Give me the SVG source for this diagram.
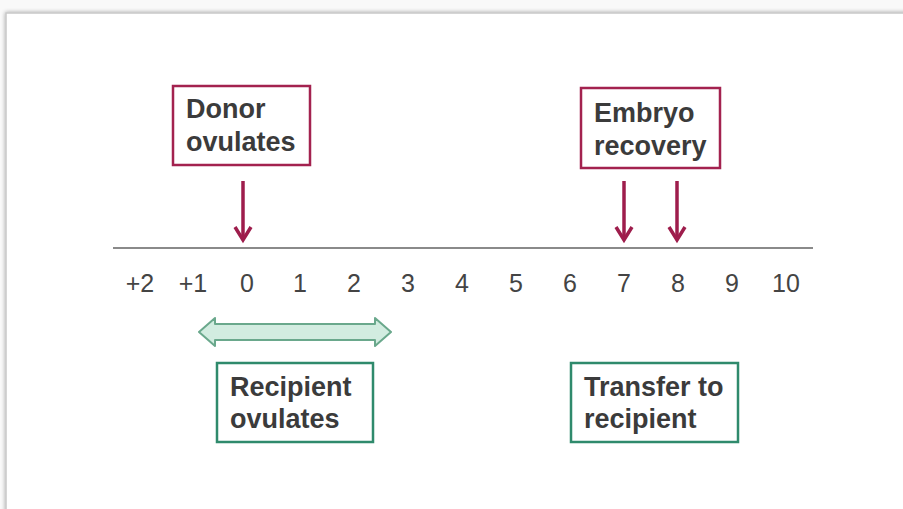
<svg xmlns="http://www.w3.org/2000/svg" width="903" height="509" viewBox="0 0 903 509">
<defs>
<style>
.lbl{font-family:"Liberation Sans",Arial,sans-serif;font-weight:bold;font-size:27px;fill:#3b3b3b}
.num{font-family:"Liberation Sans",Arial,sans-serif;font-size:25px;fill:#444;text-anchor:middle}
.red{fill:#fff;stroke:#a3224f;stroke-width:2.5}
.grn{fill:#fff;stroke:#2f8a6c;stroke-width:2.5}
.arr{stroke:#9e1d4c;stroke-width:3.5;fill:none}
</style>
<filter id="sh" x="-5%" y="-5%" width="110%" height="110%">
<feGaussianBlur in="SourceAlpha" stdDeviation="2"/>
<feOffset dx="0" dy="0"/>
<feComponentTransfer><feFuncA type="linear" slope="0.35"/></feComponentTransfer>
<feMerge><feMergeNode/><feMergeNode in="SourceGraphic"/></feMerge>
</filter>
</defs>
<rect width="903" height="509" fill="#f9f9f9"/>
<rect x="6" y="13" width="910" height="510" fill="#fff" stroke="#c8c8c8" stroke-width="1.5" filter="url(#sh)"/>
<g id="axis">
<line x1="113" y1="248" x2="813" y2="248" stroke="#8a8a8a" stroke-width="2"/>
<text class="num" x="140" y="292">+2</text>
<text class="num" x="193" y="292">+1</text>
<text class="num" x="247" y="292">0</text>
<text class="num" x="300" y="292">1</text>
<text class="num" x="354" y="292">2</text>
<text class="num" x="408" y="292">3</text>
<text class="num" x="462" y="292">4</text>
<text class="num" x="516" y="292">5</text>
<text class="num" x="570" y="292">6</text>
<text class="num" x="624" y="292">7</text>
<text class="num" x="678" y="292">8</text>
<text class="num" x="732" y="292">9</text>
<text class="num" x="786" y="292">10</text>
</g>
<g id="donor">
<rect class="red" x="173" y="86" width="137" height="79"/>
<text class="lbl" x="186" y="118">Donor</text>
<text class="lbl" x="186" y="151">ovulates</text>
</g>
<g id="embryo">
<rect class="red" x="581" y="88" width="139" height="80"/>
<text class="lbl" x="594" y="122">Embryo</text>
<text class="lbl" x="594" y="155">recovery</text>
</g>
<g id="recipient">
<rect class="grn" x="217" y="363" width="156" height="79"/>
<text class="lbl" x="230" y="396">Recipient</text>
<text class="lbl" x="230" y="428">ovulates</text>
</g>
<g id="transfer">
<rect class="grn" x="571" y="363" width="167" height="79"/>
<text class="lbl" x="584" y="396">Transfer to</text>
<text class="lbl" x="584" y="428">recipient</text>
</g>
<g id="connectors">
<g class="arr">
<line x1="243" y1="181" x2="243" y2="238"/>
<polyline points="235,227 243,240 251,227"/>
<line x1="624" y1="181" x2="624" y2="238"/>
<polyline points="616,227 624,240 632,227"/>
<line x1="677" y1="181" x2="677" y2="238"/>
<polyline points="669,227 677,240 685,227"/>
</g>
<path d="M199,332 L215,318 L215,324 L375,324 L375,318 L391,332 L375,346 L375,340 L215,340 L215,346 Z" fill="#d2ece0" stroke="#6aa88c" stroke-width="2" stroke-linejoin="round"/>
</g>
</svg>
